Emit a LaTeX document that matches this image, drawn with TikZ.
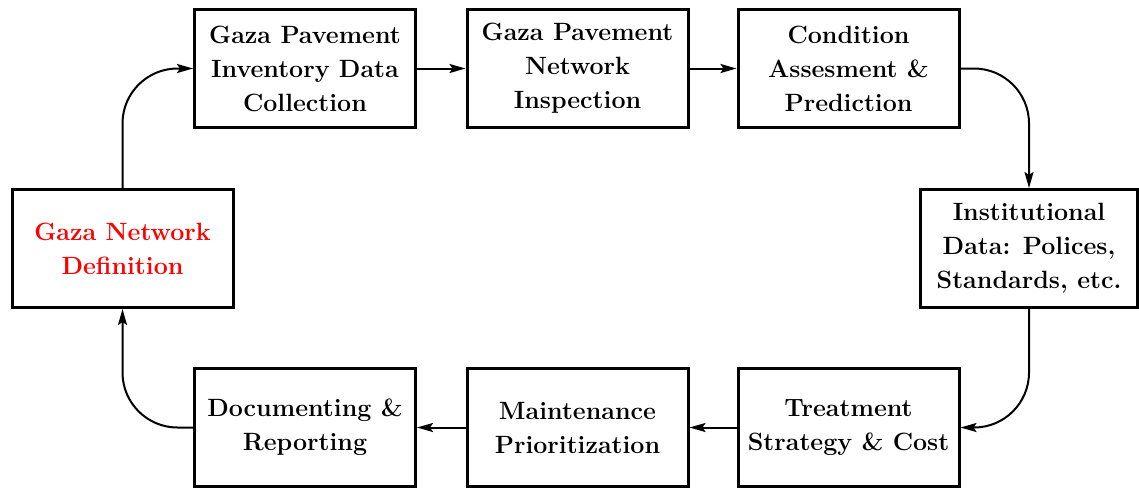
\documentclass[tikz,border=0pt]{standalone}
\usetikzlibrary{positioning,arrows.meta}
\newcommand\toprow{68.5}
\newcommand\botrow{427.5}
\newcommand\midrow{248.5}

\begin{document}
\begin{tikzpicture}[x=1pt,y=-1pt,
    stage/.style={draw,line width=3pt,minimum width=221pt,minimum height=118pt,
      inner sep=0pt,align=center,font=\bfseries\fontsize{25}{34}\selectfont},
    flow/.style={line width=2pt,-{Stealth[length=16pt,width=9pt,inset=3pt]}},
    turnflow/.style={flow,rounded corners=55pt}
  ]
    \useasboundingbox (0,0) rectangle (1139,488);

    % top row
    \node[stage] (inv) at (305,\toprow) {Gaza Pavement\\Inventory Data\\Collection};
    \node[stage] (insp) at (577.5,\toprow) {Gaza Pavement\\Network\\Inspection};
    \node[stage] (cond) at (848.5,\toprow) {Condition\\Assesment \&\\Prediction};

    % sides
    \node[stage,minimum width=217pt] (inst) at (1029,\midrow) {Institutional\\Data: Polices,\\Standards, etc.};
    \node[stage,text=red] (net) at (122.5,\midrow) {Gaza Network\\Definition};

    % bottom row
    \node[stage] (treat) at (848.5,\botrow) {Treatment\\Strategy \& Cost};
    \node[stage] (prio) at (577.5,\botrow) {Maintenance\\Prioritization};
    \node[stage] (doc) at (305,\botrow) {Documenting \&\\Reporting};

    % connectors
    \draw[turnflow] (net.north) |- (inv.west);
    \draw[flow] (inv) -- (insp);
    \draw[flow] (insp) -- (cond);
    \draw[turnflow] (cond.east) -| (inst.north);
    \draw[turnflow] (inst.south) |- (treat.east);
    \draw[flow] (treat) -- (prio);
    \draw[flow] (prio) -- (doc);
    \draw[turnflow] (doc.west) -| (net.south);
  \end{tikzpicture}
\end{document}
